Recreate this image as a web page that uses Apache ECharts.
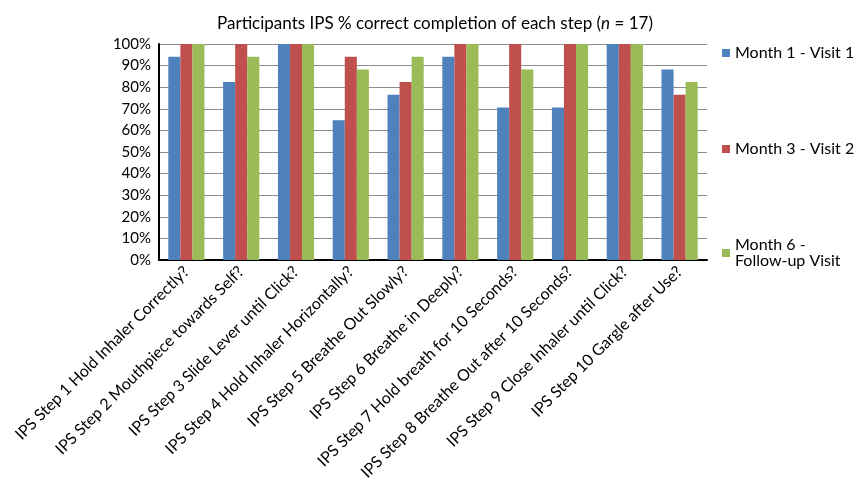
<!DOCTYPE html>
<html><head><meta charset="utf-8">
<script src="https://cdn.jsdelivr.net/npm/echarts@6/dist/echarts.min.js"></script>
<style>html,body{margin:0;padding:0;background:#fff}#c{width:858px;height:494px}</style>
</head><body><div id="c"></div>
<script>
const categories = [
  'IPS Step 1 Hold Inhaler Correctly?',
  'IPS Step 2 Mouthpiece towards Self?',
  'IPS Step 3 Slide Lever until Click?',
  'IPS Step 4 Hold Inhaler Horizontally?',
  'IPS Step 5 Breathe Out Slowly?',
  'IPS Step 6 Breathe in Deeply?',
  'IPS Step 7 Hold breath for 10 Seconds?',
  'IPS Step 8 Breathe Out after 10 Seconds?',
  'IPS Step 9 Close Inhaler until Click?',
  'IPS Step 10 Gargle after Use?'
];
const month1 = [94.1, 82.4, 100, 64.7, 76.5, 94.1, 70.6, 70.6, 100, 88.2];
const month3 = [100, 100, 100, 94.1, 82.4, 100, 100, 100, 100, 76.5];
const month6 = [100, 94.1, 100, 88.2, 94.1, 100, 88.2, 100, 100, 82.4];
const seriesNames = ['Month 1 - Visit 1', 'Month 3 - Visit 2', 'Month 6 -\nFollow-up Visit'];
const colors = ['#4F81BD', '#C0504D', '#9BBB59'];

const font = 'Lato, Open Sans, sans-serif';
const chart = echarts.init(document.getElementById('c'));
const mk = (name, data, i) => ({
  name, type: 'bar', data, barGap: '0%', barCategoryGap: '34%',
  itemStyle: { color: colors[i] }
});
chart.setOption({
  animation: false,
  textStyle: { fontFamily: font },
  title: {
    left: 430, top: 10, textAlign: 'center',
    text: '{a|Participants IPS % correct completion of each step (}{i|n}{a| = 17)}',
    textStyle: {
      fontWeight: 'normal',
      rich: {
        a: { fontSize: 17, color: '#000', fontFamily: font, fontWeight: 'normal' },
        i: { fontSize: 17, color: '#000', fontStyle: 'italic', fontFamily: font, fontWeight: 'normal' }
      }
    }
  },
  legend: {
    orient: 'vertical', left: 717, top: 40, itemWidth: 8, itemHeight: 8,
    itemGap: 80, icon: 'rect',
    textStyle: { fontSize: 16, color: '#000', fontFamily: font, lineHeight: 16 },
    data: seriesNames
  },
  grid: { left: 159, top: 44, width: 548, height: 216, containLabel: false },
  xAxis: {
    type: 'category', data: categories,
    axisLine: { lineStyle: { color: '#000', width: 2 } },
    axisTick: { show: false },
    axisLabel: { rotate: 45, interval: 0, fontSize: 16, color: '#000', margin: 9 }
  },
  yAxis: {
    type: 'value', min: 0, max: 100, interval: 10,
    axisLine: { show: true, lineStyle: { color: '#000', width: 2 } },
    axisTick: { show: false },
    axisLabel: { formatter: '{value}%', fontSize: 15, color: '#000', margin: 8 },
    splitLine: { lineStyle: { color: '#8c8c8c', width: 1 } }
  },
  series: [mk(seriesNames[0], month1, 0), mk(seriesNames[1], month3, 1), mk(seriesNames[2], month6, 2)]
});
</script></body></html>
